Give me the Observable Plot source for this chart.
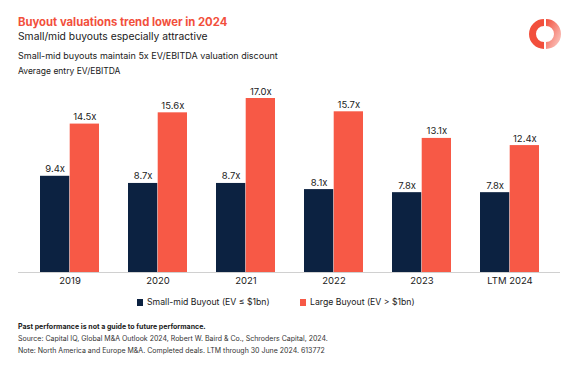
<!DOCTYPE html>
<html>
<head>
<meta charset="utf-8">
<script src="https://cdn.jsdelivr.net/npm/d3@7"></script>
<script src="https://cdn.jsdelivr.net/npm/@observablehq/plot@0.6"></script>
<style>
  body { margin:0; background:#fff; font-family: Inter, "Noto Sans", sans-serif; }
  #wrap { position:relative; width:578px; height:367px; overflow:hidden; }
  .t { position:absolute; left:18px; white-space:nowrap; color:#1a1a1a; }
  #chart { position:absolute; left:0; top:0; }
  .leg { position:absolute; top:297px; font-size:8.7px; color:#1a1a1a; white-space:nowrap; }
  .sw { display:inline-block; width:6px; height:7px; margin-right:4px; vertical-align:-0.5px; }
</style>
</head>
<body>
<div id="wrap">
  <div class="t" style="top:15px;font-size:11.3px;font-weight:700;color:#f24f3c;">Buyout valuations trend lower in 2024</div>
  <div class="t" style="top:30px;font-size:10.3px;">Small/mid buyouts especially attractive</div>
  <div class="t" style="top:50px;font-size:9px;">Small-mid buyouts maintain 5x EV/EBITDA valuation discount</div>
  <div class="t" style="top:66px;font-size:8.5px;">Average entry EV/EBITDA</div>
  <div id="chart"></div>
  <div class="leg" style="left:137px;"><span class="sw" style="background:#0c2241"></span>Small-mid Buyout (EV ≤ $1bn)</div>
  <div class="leg" style="left:300px;"><span class="sw" style="background:#f75946"></span>Large Buyout (EV &gt; $1bn)</div>
  <div class="t" style="top:322px;font-size:7px;font-weight:700;">Past performance is not a guide to future performance.</div>
  <div class="t" style="top:334px;font-size:7px;color:#333;">Source: Capital IQ, Global M&amp;A Outlook 2024, Robert W. Baird &amp; Co., Schroders Capital, 2024.</div>
  <div class="t" style="top:346px;font-size:7px;color:#333;">Note: North America and Europe M&amp;A. Completed deals. LTM through 30 June 2024. 613772</div>
  <svg style="position:absolute;left:528px;top:17px" width="34" height="34" viewBox="-17 -17 34 34">
    <defs>
      <linearGradient id="g" x1="0" x2="1" y1="0" y2="1">
        <stop offset="0" stop-color="#f24f3c"/>
        <stop offset="1" stop-color="#f24f3c" stop-opacity="0.25"/>
      </linearGradient>
    </defs>
    <path d="M -1 -15 A 15 15 0 0 0 -1 15 L -1 8 A 8 8 0 0 1 -1 -8 Z" fill="#f24f3c"/>
    <path d="M 1 -15 A 15 15 0 0 1 1 15 L 1 8 A 8 8 0 0 0 1 -8 Z" fill="url(#g)"/>
  </svg>
</div>
<script>
const years = ["2019", "2020", "2021", "2022", "2023", "LTM 2024"];
const smallMid = [9.4, 8.7, 8.7, 8.1, 7.8, 7.8];
const large = [14.5, 15.6, 17.0, 15.7, 13.1, 12.4];

const navy = "#0c2241";
const coral = "#f75946";
const rows = years.map((y, i) => ({year: y, small: smallMid[i], large: large[i]}));
const half = 29.7;
const fmt = v => v.toFixed(1) + "x";

const chart = Plot.plot({
  width: 578,
  height: 367,
  marginTop: 98,
  marginBottom: 95,
  marginLeft: 18,
  marginRight: 18,
  style: {fontFamily: "Inter, 'Noto Sans', sans-serif", fontSize: "9.5px", color: "#1a1a1a", background: "transparent"},
  x: {type: "band", domain: years, paddingInner: 0.33, paddingOuter: 0.2215, label: null, tickSize: 0, tickPadding: 5},
  y: {domain: [0, 17], axis: null},
  marks: [
    Plot.barY(rows, {x: "year", y: "small", fill: navy, insetRight: half}),
    Plot.barY(rows, {x: "year", y: "large", fill: coral, insetLeft: half}),
    Plot.text(rows, {x: "year", y: "small", text: d => fmt(d.small), dx: -half / 2, dy: -4, lineAnchor: "bottom", fill: "#222", fontSize: 9.5}),
    Plot.text(rows, {x: "year", y: "large", text: d => fmt(d.large), dx: half / 2, dy: -4, lineAnchor: "bottom", fill: "#222", fontSize: 9.5}),
    Plot.ruleY([0], {stroke: "#d0d0d0", strokeWidth: 1})
  ]
});
document.getElementById("chart").appendChild(chart);
</script>
</body>
</html>
